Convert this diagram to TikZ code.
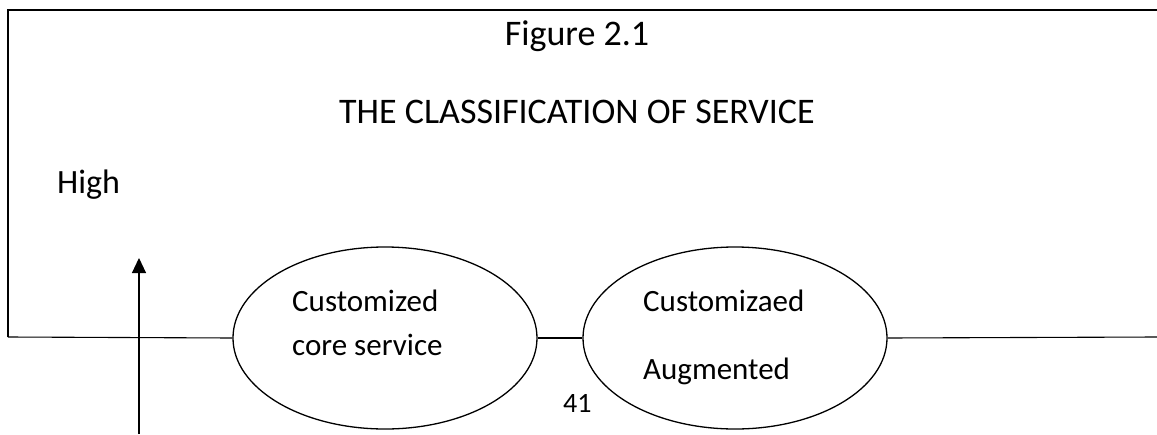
\documentclass[tikz,border=0pt]{standalone}
\usepackage{fontspec}
\setmainfont{Carlito}
\usetikzlibrary{shapes.geometric,arrows.meta}
\begin{document}
\begin{tikzpicture}[x=1pt,y=-1pt,
  frame/.style={line width=1.6pt},
  axisline/.style={line width=1.1pt},
  oval/.style={ellipse,draw,line width=1.3pt,minimum width=304pt,minimum height=182pt,inner sep=0pt},
  bigtxt/.style={font=\fontsize{36}{40}\selectfont,inner sep=0pt},
  hightxt/.style={font=\fontsize{34}{38}\selectfont,inner sep=0pt,anchor=base west},
  midtxt/.style={font=\fontsize{31}{36}\selectfont,inner sep=0pt,anchor=base west},
  smalltxt/.style={font=\fontsize{28}{32}\selectfont,inner sep=0pt,anchor=base west}]
\useasboundingbox (0,0) rectangle (1157,434);
% frame
\coordinate (tl) at (8,10);
\coordinate (tr) at (1157,10);
\coordinate (bl) at (8,337);
\coordinate (br) at (1157,337);
\draw[frame] (tr) -- (tl) -- (bl);
% ellipses
\node[oval] (e1) at (385,338) {};
\node[oval] (e2) at (735,338) {};
\draw[axisline] (bl) -- (e1.west);
\draw[axisline] (e1.east) -- (e2.west);
\draw[axisline] (e2.east) -- (br);
% arrow
\coordinate (abot) at (139,434);
\coordinate (atop) at (139,258);
\draw[axisline,-{Triangle[length=15pt,width=14pt]}] (abot) -- (atop);
% texts
\node[bigtxt,anchor=base] (fig) at (577,45) {Figure 2.1};
\node[bigtxt,anchor=base] (title) at (577,123) {THE CLASSIFICATION OF SERVICE};
\node[hightxt] (high) at (57,193) {High};
\node[midtxt] (c1a) at (292,311) {Customized};
\node[midtxt] (c1b) at (292,355) {core service};
\node[midtxt] (c2a) at (643,311) {Customizaed};
\node[midtxt] (c2b) at (643,379) {Augmented};
\node[smalltxt] (pg) at (563,412) {41};
\end{tikzpicture}
\end{document}
